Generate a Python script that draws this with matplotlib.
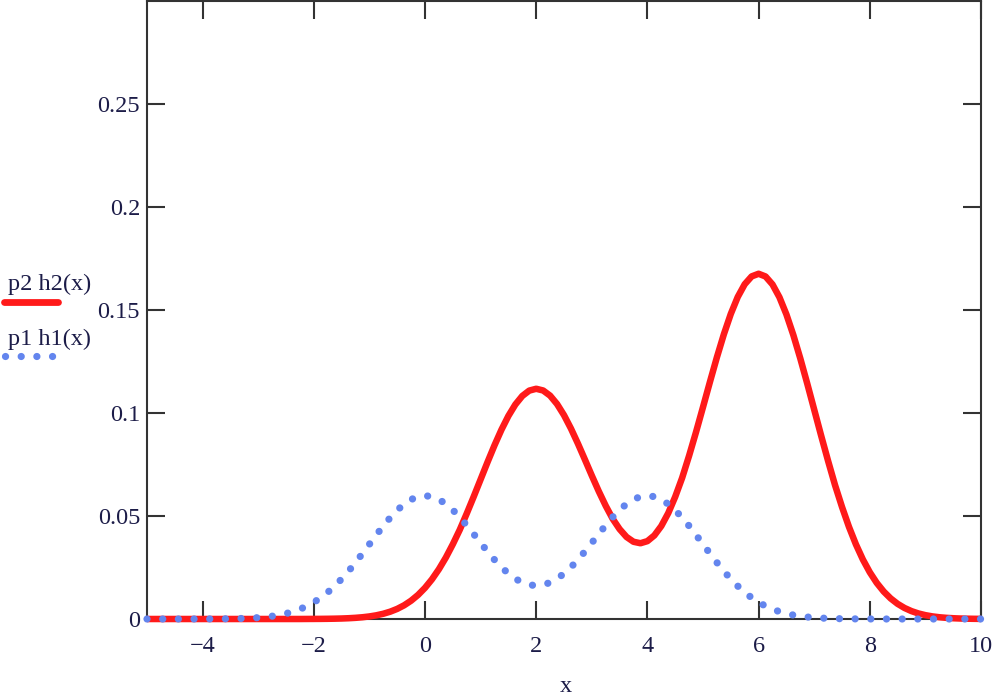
import matplotlib
matplotlib.use("Agg")
import matplotlib.pyplot as plt
from matplotlib.lines import Line2D

# x grid (step 0.125 from -5 to 10)
x_vals = [-5 + 0.125 * i for i in range(121)]

# p2 h2(x) -- red solid curve
red_vals = [0] * 23 + [
    0.000023, 0.00004, 0.000061, 0.0001, 0.000157, 0.00024, 0.000375, 0.00057,       # -2.125 .. -1.25
    0.000846, 0.00124, 0.001791, 0.00255, 0.003563, 0.00491, 0.006656, 0.00889,      # -1.125 .. -0.25
    0.011682, 0.01512, 0.01926, 0.02416, 0.029831, 0.03627, 0.043307, 0.05114,       # -0.125 .. 0.75
    0.059325, 0.06775, 0.076176, 0.08432, 0.091885, 0.09858, 0.104119, 0.10827,      # 0.875 .. 1.75
    0.110868, 0.11176, 0.110926, 0.10842, 0.104354, 0.09895, 0.092448, 0.08517,      # 1.875 .. 2.75
    0.077445, 0.06961, 0.062012, 0.05496, 0.048651, 0.04363, 0.039815, 0.03749,      # 2.875 .. 3.75
    0.036783, 0.0378, 0.040572, 0.04513, 0.051402, 0.05931, 0.068524, 0.07926,       # 3.875 .. 4.75
    0.090779, 0.10287, 0.11511, 0.12705, 0.138203, 0.14811, 0.156335, 0.1625,        # 4.875 .. 5.75
    0.166312, 0.16759, 0.166274, 0.1624, 0.156178, 0.14787, 0.137828, 0.12648,       # 5.875 .. 6.75
    0.114264, 0.10163, 0.088988, 0.07671, 0.064961, 0.0544, 0.044746, 0.03624,       # 6.875 .. 7.75
    0.02889, 0.02268, 0.017523, 0.01333, 0.009984, 0.00736, 0.005344, 0.00382,       # 7.875 .. 8.75
    0.002687, 0.00186, 0.001269, 0.00085, 0.000563, 0.00037, 0.000235, 0.00015,      # 8.875 .. 9.75
    0.000092, 0.00006]                                                                # 9.875 .. 10

# p1 h1(x) -- blue dotted curve
blue_vals = [0] * 7 + [
    0.000012, 0.00002, 0.000033, 0.00005, 0.000084, 0.00013, 0.000201, 0.0003,       # -4.125 .. -3.25
    0.000453, 0.00066, 0.00096, 0.00136, 0.001909, 0.00263, 0.003566, 0.00476,       # -3.125 .. -2.25
    0.006258, 0.0081, 0.010318, 0.01294, 0.015981, 0.01943, 0.0232, 0.0274,          # -2.125 .. -1.25
    0.031781, 0.0363, 0.040808, 0.04517, 0.049224, 0.05281, 0.055778, 0.058,         # -1.125 .. -0.25
    0.059387, 0.05986, 0.059408, 0.05805, 0.055862, 0.05294, 0.049425, 0.04547,      # -0.125 .. 0.75
    0.041261, 0.03696, 0.032741, 0.02876, 0.025109, 0.02206, 0.019547, 0.0177,       # 0.875 .. 1.75
    0.016576, 0.0162, 0.016576, 0.0177, 0.019547, 0.02206, 0.025109, 0.02876,        # 1.875 .. 2.75
    0.032741, 0.03696, 0.041261, 0.04547, 0.049425, 0.05294, 0.055862, 0.05805,      # 2.875 .. 3.75
    0.059408, 0.05986, 0.059387, 0.058, 0.055778, 0.05281, 0.049224, 0.04517,        # 3.875 .. 4.75
    0.040808, 0.0363, 0.031781, 0.0274, 0.0232, 0.01943, 0.015981, 0.01294,          # 4.875 .. 5.75
    0.010318, 0.0081, 0.006258, 0.00476, 0.003566, 0.00263, 0.001909, 0.00136,       # 5.875 .. 6.75
    0.00096, 0.00066, 0.000453, 0.0003, 0.000201, 0.00013, 0.000084, 0.00005,        # 6.875 .. 7.75
    0.000033, 0.00002, 0.000012] + [0] * 15                                          # 7.875 .. 10

x_ticks = [-4, -2, 0, 2, 4, 6, 8, 10]
x_tick_labels = ["\u22124", "\u22122", "0", "2", "4", "6", "8", "10"]
y_ticks = [0, 0.05, 0.1, 0.15, 0.2, 0.25]
y_tick_labels = ["0", "0.05", "0.1", "0.15", "0.2", "0.25"]

RED = "#ff1a1a"
BLUE = "#6385ee"
TXT = "#1c1c48"
FS = 17.5

plt.rcParams['font.family'] = ['Liberation Serif', 'DejaVu Serif']

fig = plt.figure(figsize=(10, 6.97), dpi=100)
ax = fig.add_axes([0.147, 78/697, 0.834, 618/697])

ax.plot(x_vals, red_vals, color=RED, lw=4.7, solid_capstyle='butt',
        solid_joinstyle='round', clip_on=False, zorder=3)
ax.plot(x_vals, blue_vals, color=BLUE, lw=5.2, linestyle=(0, (0.01, 2.16)),
        dash_capstyle='round', clip_on=False, zorder=4)

ax.set_xlim(-5, 10)
ax.set_ylim(0, 0.3)
ax.set_xticks(x_ticks)
ax.set_xticklabels(x_tick_labels)
ax.set_yticks(y_ticks)
ax.set_yticklabels(y_tick_labels)
ax.tick_params(direction='in', top=True, right=True, length=13, width=1.5,
               color='#333333', labelsize=FS, labelcolor=TXT)
ax.tick_params(axis='x', pad=12)
ax.tick_params(axis='y', pad=5)
for s in ax.spines.values():
    s.set_linewidth(1.5)
    s.set_color('#333333')

fig.text(0.566, 0.0, "x", ha='center', va='bottom', fontsize=FS, color=TXT)

# legend at left
fig.text(0.008, 407/697, "p2 h2(x)", ha='left', va='baseline', fontsize=FS, color=TXT)
fig.add_artist(Line2D([0.004, 0.058], [1 - 302/697, 1 - 302/697], color=RED, lw=4.9,
                      solid_capstyle='round', transform=fig.transFigure))
fig.text(0.008, 352/697, "p1 h1(x)", ha='left', va='baseline', fontsize=FS, color=TXT)
fig.add_artist(Line2D([0.005, 0.056], [1 - 356/697, 1 - 356/697], color=BLUE, lw=5.2,
                      linestyle=(0, (0.01, 2.16)), dash_capstyle='round',
                      transform=fig.transFigure))

fig.savefig("out.png", dpi=100)
